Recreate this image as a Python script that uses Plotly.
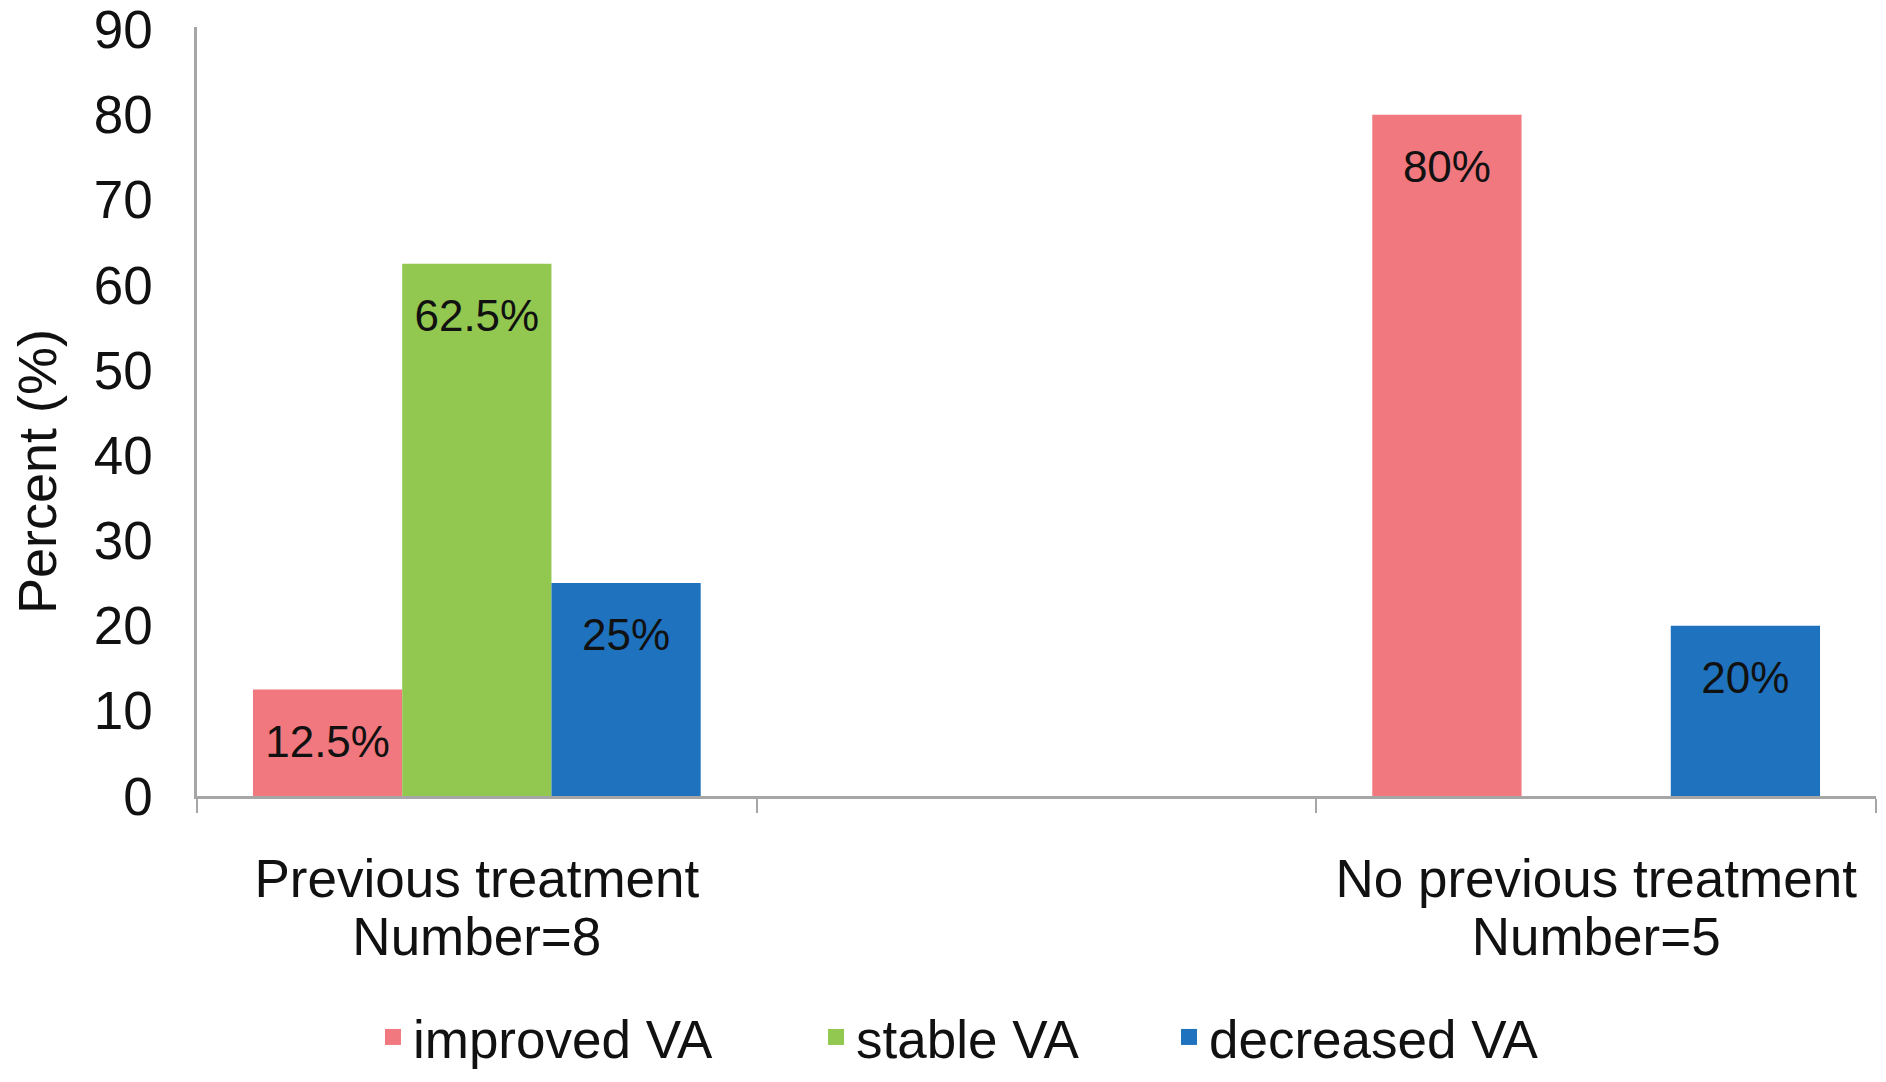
import plotly.graph_objects as go

# ---- data ----
categories = ["Previous treatment", " ", "No previous treatment"]
counts = ["Number=8", "", "Number=5"]
series_names = ["improved VA", "stable VA", "decreased VA"]
improved = [12.5, None, 80]
stable = [62.5, None, None]
decreased = [25, None, 20]
y_ticks = [0, 10, 20, 30, 40, 50, 60, 70, 80, 90]

colors = ["#F0787E", "#92C850", "#1F72BE"]
FONT = "Liberation Sans, Arial, Helvetica, sans-serif"
LABEL_DROP = 6.6  # label sits a bit below the bar top (in axis units)

fig = go.Figure()
all_series = [improved, stable, decreased]
for name, vals, col in zip(series_names, all_series, colors):
    fig.add_trace(go.Bar(
        x=categories, y=vals, name=name, marker=dict(color=col, line=dict(width=0)),
        showlegend=False, hoverinfo="skip",
    ))
for name, vals in zip(series_names, all_series):
    fig.add_trace(go.Scatter(
        x=categories,
        y=[None if v is None else v - LABEL_DROP for v in vals],
        text=[None if v is None else f"{v:g}%" for v in vals],
        mode="text", textposition="middle center",
        textfont=dict(family=FONT, size=44, color="#111111"),
        showlegend=False, hoverinfo="skip", cliponaxis=False,
    ))

# legend entries (one legend per item so spacing follows the reference)
for i, (name, col) in enumerate(zip(series_names, colors)):
    fig.add_trace(go.Scatter(
        x=[None], y=[None], xaxis="x2", mode="markers", name=name,
        marker=dict(symbol="square", size=20, color=col),
        legend="legend" if i == 0 else f"legend{i+1}",
    ))

legend_common = dict(orientation="h", yanchor="middle", y=-0.3134, xanchor="left",
                     bgcolor="rgba(0,0,0,0)", borderwidth=0,
                     font=dict(family=FONT, size=53, color="#111111"))

fig.update_layout(
    width=1886, height=1082,
    margin=dict(l=197, r=10, t=27, b=286, autoexpand=False),
    paper_bgcolor="white", plot_bgcolor="white",
    barmode="group", bargap=0.2, bargroupgap=0,
    scattermode="group", scattergap=0.2,
    font=dict(family=FONT, color="#111111"),
    legend=dict(x=0.1048, **legend_common),
    legend2=dict(x=0.3687, **legend_common),
    legend3=dict(x=0.5789, **legend_common),
    xaxis=dict(
        type="category", categoryorder="array", categoryarray=categories,
        range=[-0.5, 2.5], automargin=False,
        showline=True, linecolor="#A6A6A6", linewidth=2.5,
        ticks="outside", tickson="boundaries", ticklen=14, tickwidth=2, tickcolor="#A6A6A6",
        tickfont=dict(family=FONT, size=53, color="#111111"),
        ticklabelstandoff=35,
        showgrid=False, zeroline=False,
    ),
    xaxis2=dict(
        type="linear", overlaying="x", anchor="y", side="bottom",
        range=[-0.5, 2.5], tickvals=[0, 1, 2], ticktext=counts, automargin=False,
        showline=False, ticks="", showgrid=False, zeroline=False,
        tickfont=dict(family=FONT, size=53, color="#111111"),
        ticklabelstandoff=105,
    ),
    yaxis=dict(
        range=[0, 90.3], tickvals=y_ticks, automargin=False,
        showline=True, linecolor="#A6A6A6", linewidth=2.5,
        ticks="", showgrid=False, zeroline=False,
        tickfont=dict(family=FONT, size=53, color="#111111"),
        ticklabelstandoff=31,
    ),
    annotations=[dict(
        text="Percent (%)", textangle=-90, xref="paper", yref="paper",
        x=-0.0953, y=0.4226, xanchor="center", yanchor="middle", showarrow=False,
        font=dict(family=FONT, size=54, color="#111111"),
    )],
)

fig.write_html("out.html", config={"displayModeBar": False},
               post_script="document.body.style.margin='0';")
